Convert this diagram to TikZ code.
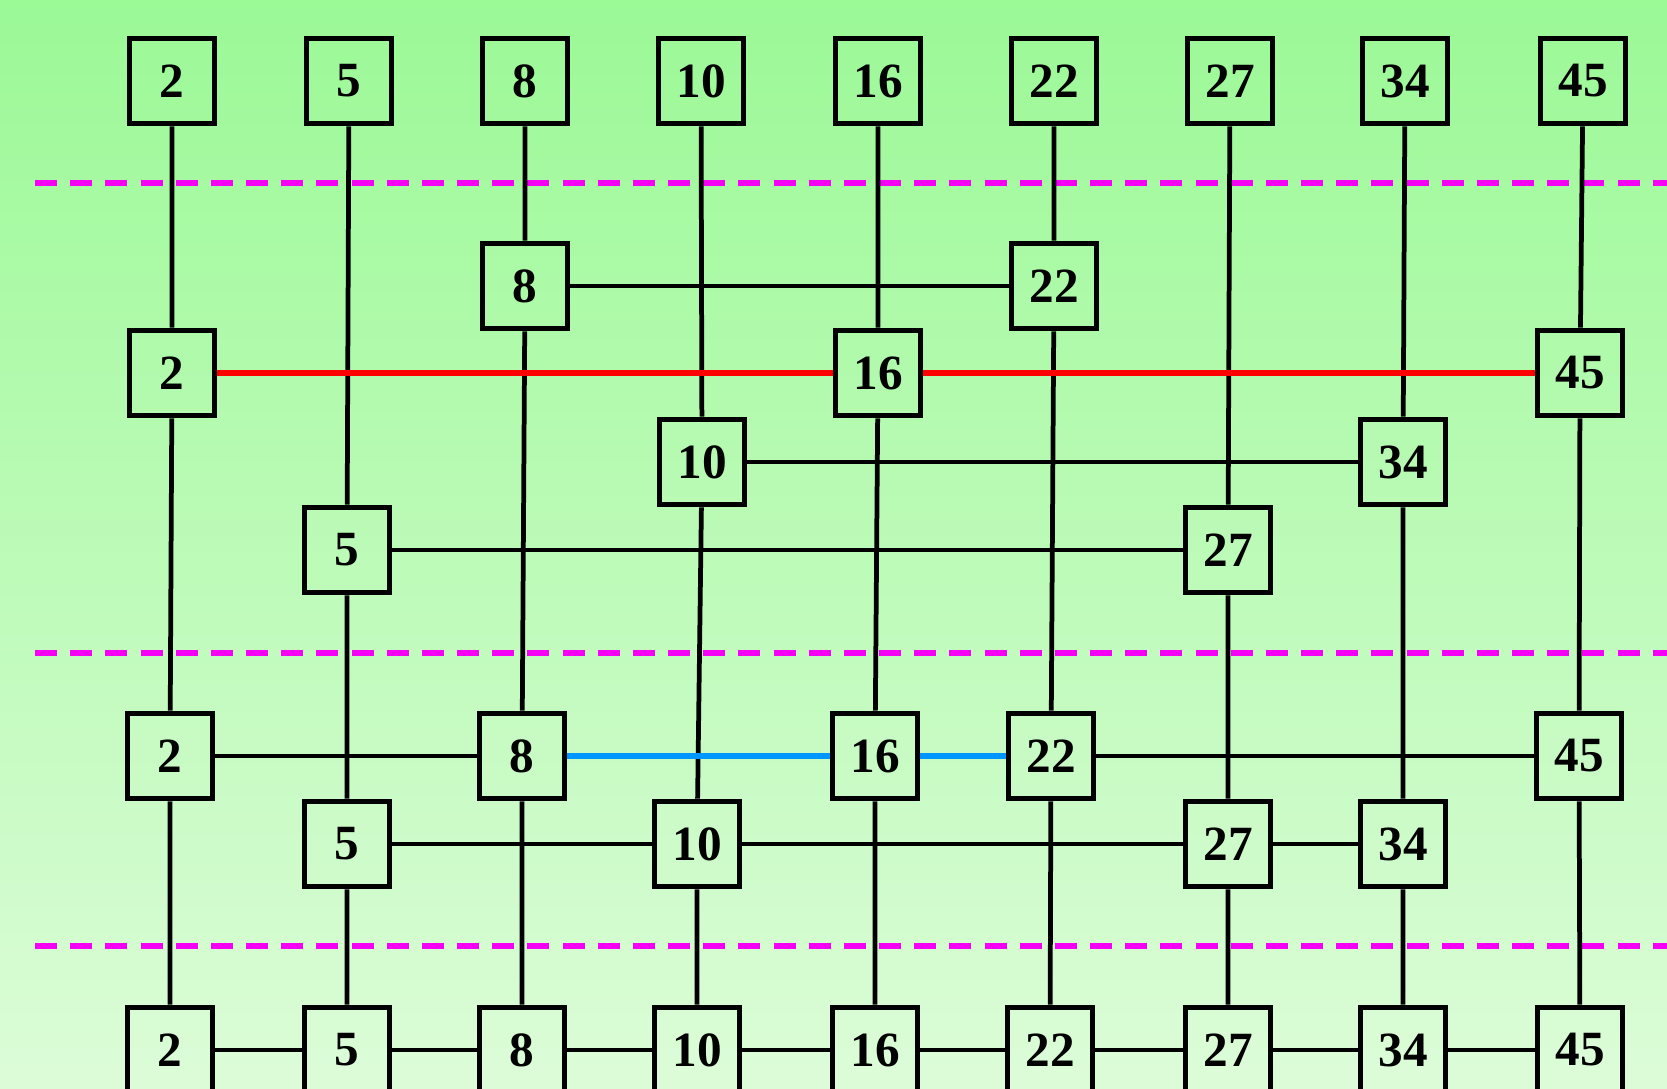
\documentclass[tikz,border=0pt]{standalone}
\usepackage{fontspec}
\setmainfont{Liberation Serif}
\definecolor{bgtop}{RGB}{155,249,150}
\definecolor{bgbot}{RGB}{220,252,216}
\definecolor{dashmag}{RGB}{245,0,245}
\definecolor{hiblue}{RGB}{0,150,255}
\definecolor{hired}{RGB}{255,0,0}
\begin{document}
\begin{tikzpicture}[x=0.01cm,y=-0.01cm,
  box/.style={draw=black,line width=1.6pt,minimum size=0.85cm,inner sep=0pt,
    font=\fontsize{14}{15}\selectfont\bfseries},
  link/.style={draw=black,line width=1.35pt},
  redlink/.style={draw=hired,line width=1.45pt},
  bluelink/.style={draw=hiblue,line width=1.45pt},
  level/.style={draw=dashmag,line width=1.5pt,dash pattern=on 6.3pt off 3.7pt}]
\useasboundingbox (0,0) rectangle (1667,1089);
\shade[top color=bgtop,bottom color=bgbot] (0,0) rectangle (1667,1089);
% level separators
\coordinate (d1a) at (35,183);  \coordinate (d1b) at (1667,183);
\coordinate (d2a) at (35,653);  \coordinate (d2b) at (1667,653);
\coordinate (d3a) at (35,946);  \coordinate (d3b) at (1667,946);
\draw[level] (d1a) -- (d1b);
\draw[level] (d2a) -- (d2b);
\draw[level] (d3a) -- (d3b);
% row 1
\node[box] (a2)  at (172,81) {2};
\node[box] (a5)  at (349,81) {5};
\node[box] (a8)  at (525,81) {8};
\node[box] (a10) at (701,81) {10};
\node[box] (a16) at (878,81) {16};
\node[box] (a22) at (1054,81) {22};
\node[box] (a27) at (1230,81) {27};
\node[box] (a34) at (1405,81) {34};
\node[box] (a45) at (1583,81) {45};
% row 2
\node[box] (b8)  at (525,286) {8};
\node[box] (b22) at (1054,286) {22};
% row 3
\node[box] (c2)  at (172,373) {2};
\node[box] (c16) at (878,373) {16};
\node[box] (c45) at (1580,373) {45};
% row 4
\node[box] (d10) at (702,462) {10};
\node[box] (d34) at (1403,462) {34};
% row 5
\node[box] (e5)  at (347,550) {5};
\node[box] (e27) at (1228,550) {27};
% row 6
\node[box] (f2)  at (170,756) {2};
\node[box] (f8)  at (522,756) {8};
\node[box] (f16) at (875,756) {16};
\node[box] (f22) at (1051,756) {22};
\node[box] (f45) at (1579,756) {45};
% row 7
\node[box] (g5)  at (347,844) {5};
\node[box] (g10) at (697,844) {10};
\node[box] (g27) at (1228,844) {27};
\node[box] (g34) at (1403,844) {34};
% row 8
\node[box] (h2)  at (170,1050) {2};
\node[box] (h5)  at (347,1050) {5};
\node[box] (h8)  at (522,1050) {8};
\node[box] (h10) at (697,1050) {10};
\node[box] (h16) at (875,1050) {16};
\node[box] (h22) at (1050,1050) {22};
\node[box] (h27) at (1228,1050) {27};
\node[box] (h34) at (1403,1050) {34};
\node[box] (h45) at (1580,1050) {45};
% vertical links
\draw[link] (a2) -- (c2) (c2) -- (f2) (f2) -- (h2);
\draw[link] (a5) -- (e5) (e5) -- (g5) (g5) -- (h5);
\draw[link] (a8) -- (b8) (b8) -- (f8) (f8) -- (h8);
\draw[link] (a10) -- (d10) (d10) -- (g10) (g10) -- (h10);
\draw[link] (a16) -- (c16) (c16) -- (f16) (f16) -- (h16);
\draw[link] (a22) -- (b22) (b22) -- (f22) (f22) -- (h22);
\draw[link] (a27) -- (e27) (e27) -- (g27) (g27) -- (h27);
\draw[link] (a34) -- (d34) (d34) -- (g34) (g34) -- (h34);
\draw[link] (a45) -- (c45) (c45) -- (f45) (f45) -- (h45);
% horizontal links
\draw[link] (b8) -- (b22);
\draw[link] (d10) -- (d34);
\draw[link] (e5) -- (e27);
\draw[link] (f2) -- (f8) (f22) -- (f45);
\draw[link] (g5) -- (g10) (g10) -- (g27) (g27) -- (g34);
\draw[link] (h2) -- (h5) (h5) -- (h8) (h8) -- (h10) (h10) -- (h16)
  (h16) -- (h22) (h22) -- (h27) (h27) -- (h34) (h34) -- (h45);
% highlighted search paths
\draw[redlink] (c2) -- (c16) (c16) -- (c45);
\draw[bluelink] (f8) -- (f16) (f16) -- (f22);
\end{tikzpicture}
\end{document}
